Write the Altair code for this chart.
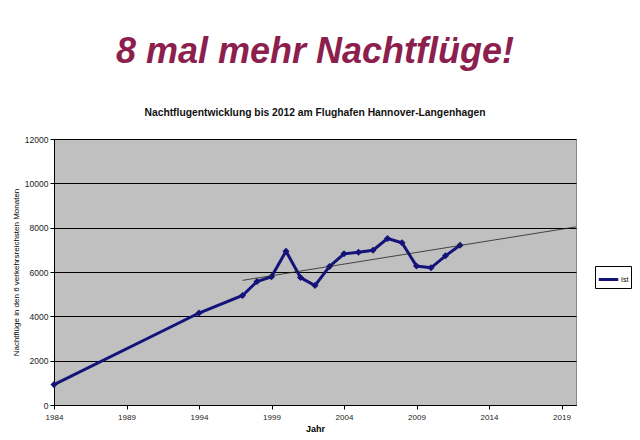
import altair as alt
import pandas as pd

# Nachtfluege in den 6 verkehrsreichsten Monaten
jahre = [1984, 1994, 1997, 1998, 1999, 2000, 2001, 2002, 2003, 2004,
         2005, 2006, 2007, 2008, 2009, 2010, 2011, 2012]
werte = [920, 4150, 4940, 5570, 5790, 6940, 5750, 5390, 6250, 6820,
         6890, 6980, 7510, 7320, 6270, 6190, 6730, 7210]
serie = ["Ist"] * len(jahre)

x_ticks = [1984, 1989, 1994, 1999, 2004, 2009, 2014, 2019]
y_ticks = [0, 2000, 4000, 6000, 8000, 10000, 12000]

df = pd.DataFrame({"jahr": jahre, "wert": werte, "serie": serie})

FONT = "Liberation Sans"

x = alt.X("jahr:Q", title="Jahr",
          scale=alt.Scale(domain=[1984, 2020], nice=False, zero=False),
          axis=alt.Axis(values=x_ticks, format="d", grid=False, labelFlush=False,
                        domainColor="#000", tickColor="#000", tickSize=4,
                        labelFontSize=8, labelColor="#222", labelFont=FONT,
                        labelPadding=4,
                        titleFontSize=9, titleFont=FONT, titleFontWeight="bold",
                        titlePadding=3))
y = alt.Y("wert:Q", title="Nachtflüge in den 6 verkehrsreichsten Monaten",
          scale=alt.Scale(domain=[0, 12000], nice=False),
          axis=alt.Axis(values=y_ticks, format="d", grid=True, gridColor="#000",
                        gridWidth=1, labelFlush=False,
                        domainColor="#000", tickColor="#000", tickSize=4,
                        labelFontSize=8.5, labelColor="#222", labelFont=FONT,
                        titleFontSize=8, titleFont=FONT, titleFontWeight="normal",
                        titlePadding=4))

linie = alt.Chart(df).mark_line(
    strokeWidth=3,
    point=alt.OverlayMarkDef(shape="diamond", filled=True, size=50, color="#13137a"),
).encode(
    x=x, y=y,
    color=alt.Color("serie:N", title=None,
                    scale=alt.Scale(domain=["Ist"], range=["#13137a"]),
                    legend=alt.Legend(orient="none", legendX=541, legendY=127,
                                      strokeColor="#000", fillColor="#fff",
                                      padding=2, symbolType="stroke",
                                      symbolSize=380, symbolStrokeWidth=3,
                                      labelFontSize=7, labelFont=FONT,
                                      labelOffset=1)),
)

trend = alt.Chart(df).transform_filter(
    alt.datum.jahr >= 1997
).transform_regression(
    "jahr", "wert", extent=[1997, 2020]
).mark_line(color="#222", strokeWidth=0.8).encode(x="jahr:Q", y="wert:Q")

chart = alt.layer(linie, trend).properties(
    width=522,
    height=266,
    autosize=alt.AutoSizeParams(type="none"),
    padding={"left": 46, "top": 131, "right": 56, "bottom": 30},
    title=alt.TitleParams(
        text="8 mal mehr Nachtflüge!",
        subtitle="Nachtflugentwicklung bis 2012 am Flughafen Hannover-Langenhagen",
        font=FONT, fontSize=36, fontStyle="italic", fontWeight="bold",
        color="#8c1f4e", anchor="middle",
        subtitleFont=FONT, subtitleFontSize=10.3, subtitleFontWeight="bold",
        subtitleColor="#111", subtitlePadding=37, offset=16,
    ),
).configure(
    background="#fff",
    view=alt.ViewConfig(fill="#c0c0c0", stroke="#888", strokeWidth=1),
)

chart.save("out.html", embed_options={"renderer": "svg", "actions": False})
